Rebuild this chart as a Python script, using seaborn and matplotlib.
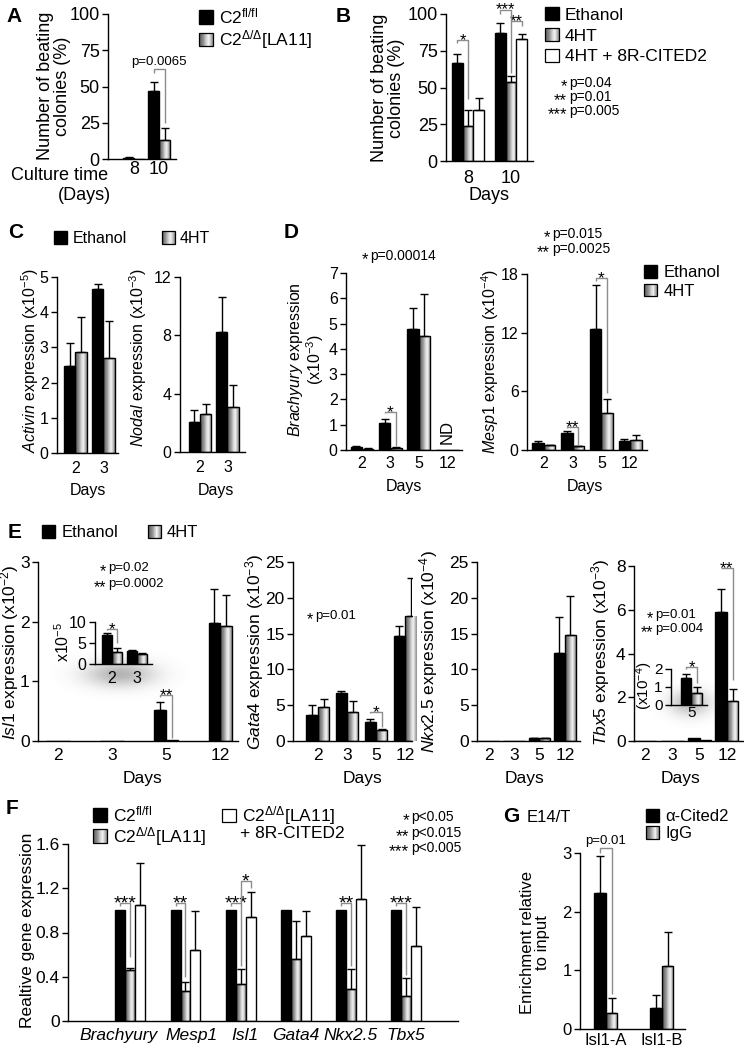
import numpy as np
import pandas as pd
import matplotlib
matplotlib.use("Agg")
import matplotlib.pyplot as plt
import matplotlib.transforms as mtrans
import seaborn as sns
from matplotlib.patches import Rectangle, Patch
from matplotlib.legend_handler import HandlerBase

# ---------------- data ----------------
a_days = ["8", "10"]
a_fl = [1.0, 47.0]
a_fl_err = [0.5, 6.0]
a_la11 = [0.0, 13.0]
a_la11_err = [0.0, 8.5]

b_days = ["8", "10"]
b_eth = [67.0, 87.0]
b_eth_err = [6.0, 7.0]
b_4ht = [24.0, 54.0]
b_4ht_err = [11.0, 4.0]
b_8r = [35.0, 83.0]
b_8r_err = [8.0, 3.5]

c_days = ["2", "3"]
activin_eth = [2.48, 4.66]
activin_eth_err = [0.64, 0.14]
activin_4ht = [2.88, 2.70]
activin_4ht_err = [0.99, 1.06]
nodal_eth = [2.05, 8.26]
nodal_eth_err = [0.85, 2.4]
nodal_4ht = [2.6, 3.07]
nodal_4ht_err = [0.7, 1.5]

d_days = ["2", "3", "5", "12"]
brachy_eth = [0.10, 1.07, 4.80, 0.0]
brachy_eth_err = [0.05, 0.16, 0.83, 0.0]
brachy_4ht = [0.05, 0.08, 4.52, 0.0]
brachy_4ht_err = [0.02, 0.03, 1.63, 0.0]
mesp1_eth = [0.70, 1.75, 12.4, 0.92]
mesp1_eth_err = [0.22, 0.20, 4.5, 0.20]
mesp1_4ht = [0.50, 0.40, 3.8, 1.0]
mesp1_4ht_err = [0.06, 0.05, 1.4, 0.5]

e_days = ["2", "3", "5", "12"]
isl1_eth = [0.0, 0.0, 0.52, 1.97]
isl1_eth_err = [0.0, 0.0, 0.13, 0.58]
isl1_4ht = [0.0, 0.0, 0.02, 1.93]
isl1_4ht_err = [0.0, 0.0, 0.0, 0.52]
inset_days = ["2", "3"]
isl1_in_eth = [6.9, 3.0]
isl1_in_eth_err = [0.4, 0.25]
isl1_in_4ht = [2.9, 2.4]
isl1_in_4ht_err = [0.9, 0.25]
gata4_eth = [3.7, 6.7, 2.7, 14.6]
gata4_eth_err = [1.3, 0.3, 0.4, 1.5]
gata4_4ht = [4.8, 4.0, 1.5, 17.5]
gata4_4ht_err = [1.1, 1.6, 0.2, 5.3]
nkx_eth = [0.0, 0.0, 0.4, 12.3]
nkx_eth_err = [0.0, 0.0, 0.05, 5.0]
nkx_4ht = [0.0, 0.0, 0.4, 14.8]
nkx_4ht_err = [0.0, 0.0, 0.05, 5.5]
tbx5_eth = [0.0, 0.0, 0.15, 5.9]
tbx5_eth_err = [0.0, 0.0, 0.0, 1.05]
tbx5_4ht = [0.0, 0.0, 0.05, 1.83]
tbx5_4ht_err = [0.0, 0.0, 0.0, 0.55]
tbx_in_days = ["5"]
tbx5_in_eth = [1.5]
tbx5_in_eth_err = [0.22]
tbx5_in_4ht = [0.67]
tbx5_in_4ht_err = [0.33]

f_genes = ["Brachyury", "Mesp1", "Isl1", "Gata4", "Nkx2.5", "Tbx5"]
f_fl = [1.0, 1.0, 1.0, 1.0, 1.0, 1.0]
f_fl_err = [0.0, 0.0, 0.0, 0.0, 0.0, 0.0]
f_la11 = [0.46, 0.27, 0.33, 0.56, 0.29, 0.23]
f_la11_err = [0.015, 0.08, 0.14, 0.34, 0.18, 0.16]
f_8r = [1.05, 0.64, 0.94, 0.77, 1.10, 0.68]
f_8r_err = [0.38, 0.35, 0.23, 0.22, 0.49, 0.35]

g_sites = ["Isl1-A", "Isl1-B"]
g_cited = [2.32, 0.36]
g_cited_err = [0.63, 0.22]
g_igg = [0.28, 1.07]
g_igg_err = [0.24, 0.58]

# ---------------- style ----------------
sns.set_style("ticks")
plt.rcParams["font.family"] = ["Liberation Sans", "DejaVu Sans"]
plt.rcParams.update({
    "mathtext.fontset": "custom",
    "mathtext.rm": "Liberation Sans",
    "mathtext.it": "Liberation Sans:italic",
    "mathtext.bf": "Liberation Sans:bold",
    "axes.edgecolor": "black", "xtick.color": "black", "ytick.color": "black",
    "text.color": "black", "axes.labelcolor": "black",
    "axes.linewidth": 1.0,
})

W, H = 744, 1053
fig = plt.figure(figsize=(W / 100, H / 100), dpi=100)
fig.patch.set_facecolor("white")

BR = "#8c8c8c"
GRAD_X = [0.0, 0.3, 0.55, 0.7, 0.85, 1.0]
GRAD_V = [0.35, 0.55, 0.85, 0.95, 0.75, 0.55]
GRAD_IMG = np.interp(np.linspace(0, 1, 64), GRAD_X, GRAD_V)[None, :]
FACE = {"black": "black", "grad": "#b0b0b0", "white": "white"}


class GradKey:
    pass


class GradHandler(HandlerBase):
    def create_artists(self, legend, orig, xd, yd, w, h, fs, trans):
        arts = []
        n = 14
        for i in range(n):
            g = float(np.interp((i + 0.5) / n, GRAD_X, GRAD_V))
            arts.append(Rectangle((-xd + w * i / n, -yd), w / n * 1.05, h,
                                  facecolor=(g, g, g), edgecolor="none", transform=trans))
        arts.append(Rectangle((-xd, -yd), w, h, facecolor="none", edgecolor="black",
                              lw=0.9, transform=trans))
        return arts


H_BLACK = Patch(facecolor="black", edgecolor="black")
H_GRAD = GradKey()
H_WHITE = Patch(facecolor="white", edgecolor="black", lw=0.9)


def px_axes(l, t, r, b):
    ax = fig.add_axes([l / W, 1 - b / H, (r - l) / W, (b - t) / H])
    ax._box = (l, t, r, b)
    ax.set_facecolor("none")
    return ax


def grad_fill(ax, p):
    h = p.get_height()
    if h <= 0:
        return
    x0, y0, w = p.get_x(), p.get_y(), p.get_width()
    im = ax.imshow(GRAD_IMG, extent=(x0, x0 + w, y0, y0 + h), aspect="auto", cmap="gray",
                   vmin=0, vmax=1, interpolation="bilinear", zorder=p.get_zorder() - 0.01)
    im.set_clip_path(p)
    p.set_facecolor("none")


def bars(ax, cats, series, width, xlim, ylim, yticks, fs, xpad, ytl=None):
    names = [s[0] for s in series]
    rows = [(c, s[0], v) for s in series for c, v in zip(cats, s[1])]
    df = pd.DataFrame(rows, columns=["cat", "series", "val"])
    pal = {s[0]: FACE[s[3]] for s in series}
    sns.barplot(data=df, x="cat", y="val", hue="series", order=cats, hue_order=names,
                palette=pal, width=width, saturation=1, edgecolor="black", linewidth=1.0,
                errorbar=None, legend=False, ax=ax)
    n = len(cats)
    pats = list(ax.patches)
    grid = [pats[h * n:(h + 1) * n] for h in range(len(series))]
    centers = []
    for h, s in enumerate(series):
        xs = [p.get_x() + p.get_width() / 2 for p in grid[h]]
        centers.append(xs)
        sel = [i for i in range(n) if s[2][i] > 0]
        if sel:
            ax.errorbar([xs[i] for i in sel], [s[1][i] for i in sel],
                        yerr=[[0] * len(sel), [s[2][i] for i in sel]], fmt="none",
                        ecolor="black", elinewidth=1.0, capsize=2.6, capthick=1.0, zorder=3)
        if s[3] == "grad":
            for p in grid[h]:
                grad_fill(ax, p)
    ax.set_xlim(*xlim)
    ax.set_ylim(*ylim)
    ax.set_yticks(yticks)
    if ytl is not None:
        ax.set_yticklabels(ytl)
    ax.tick_params(axis="both", labelsize=fs)
    ax.tick_params(axis="x", length=0, pad=xpad)
    ax.tick_params(axis="y", length=4, width=1, pad=2, direction="out")
    sns.despine(ax=ax)
    ax.set_xlabel("")
    ax.set_ylabel("")
    return centers


def ylab(ax, text, xc, yc, fs, ls=1.0):
    l, t, r, b = ax._box
    ax.set_ylabel(text, fontsize=fs)
    lab = ax.yaxis.label
    lab.set_va("center")
    lab.set_ha("center")
    lab.set_linespacing(ls)
    ax.yaxis.set_label_coords((xc - l) / (r - l), (b - yc) / (b - t))


def xlab(ax, text, xc, yc, fs):
    l, t, r, b = ax._box
    ax.set_xlabel(text, fontsize=fs)
    ax.xaxis.label.set_va("center")
    ax.xaxis.set_label_coords((xc - l) / (r - l), (b - yc) / (b - t))


def bracket(ax, x1, x2, y, y1, y2, label=None, fs=12.5, star=True):
    ax.plot([x1, x1, x2, x2], [y1, y, y, y2], color=BR, lw=1.0, clip_on=False, zorder=4,
            solid_capstyle="butt")
    if label:
        if star:
            ax.annotate(label, xy=((x1 + x2) / 2, y), xytext=(0, -0.3 * fs),
                        textcoords="offset points", ha="center", va="baseline", fontsize=fs,
                        annotation_clip=False)
        else:
            ax.annotate(label, xy=((x1 + x2) / 2, y), xytext=(0, 1), textcoords="offset points",
                        ha="center", va="bottom", fontsize=fs, annotation_clip=False)


def T(x, y, s, fs, ha="left", va="center", **kw):
    fig.text(x / W, 1 - y / H, s, fontsize=fs, ha=ha, va=va, **kw)


def pline(xs, y, st, pv, fs=10, sfs=12.5):
    """star(s) right-aligned at xs, p-value text left-aligned right after"""
    T(xs, y + 0.22 * sfs * 100 / 72, st, sfs, ha="right")
    T(xs + 2, y, pv, fs)


def legend(handles, labels, x, y, fs, ncol=1, colsp=1.5, lsp=0.2):
    fig.legend(handles, labels, loc="upper left", bbox_to_anchor=(x / W, 1 - y / H),
               bbox_transform=fig.transFigure, frameon=False, ncol=ncol, fontsize=fs,
               handlelength=0.8, handleheight=0.8, handletextpad=0.35, labelspacing=lsp,
               columnspacing=colsp, borderpad=0, borderaxespad=0,
               handler_map={GradKey: GradHandler()})


def shadow(cx, cy, sx, sy, amax):
    l, r = cx - 3 * sx, cx + 3 * sx
    t, b = cy - 3 * sy, cy + 3 * sy
    sax = fig.add_axes([l / W, 1 - b / H, (r - l) / W, (b - t) / H])
    sax.axis("off")
    yy, xx = np.mgrid[-3:3:90j, -3:3:120j]
    a = amax * np.exp(-0.5 * (xx ** 2 + yy ** 2))
    rgba = np.zeros(a.shape + (4,))
    rgba[..., :3] = 0.3
    rgba[..., 3] = a
    sax.imshow(rgba, extent=(0, 1, 0, 1), aspect="auto", interpolation="bilinear")
    sax.set_xlim(0, 1)
    sax.set_ylim(0, 1)


PL = dict(fs=15, fontweight="bold")

# ---------------- Panel A ----------------
axA = px_axes(108, 14, 176, 159)
cA = bars(axA, a_days, [("fl", a_fl, a_fl_err, "black"), ("la11", a_la11, a_la11_err, "grad")],
          0.88, (-1.04, 1.68), (0, 100), [0, 25, 50, 75, 100], 13, 1.5)
ylab(axA, "Number of beating\ncolonies (%)", 54, 86, 13)
bracket(axA, cA[0][1], cA[1][1], 62, 59, 25, "p=0.0065", fs=9.5, star=False)
T(108, 176, "Culture time", 13, ha="right")
T(84, 196, "(Days)", 13, ha="center")
T(6, 16, "A", **PL)
legend([H_BLACK, H_GRAD], ["C2$^{\\mathrm{fl/fl}}$", "C2$^{\\Delta/\\Delta}$[LA11]"], 199, 6, 12.5,
       lsp=0.15)

# ---------------- Panel B ----------------
axB = px_axes(446, 14, 533, 161)
cB = bars(axB, b_days, [("eth", b_eth, b_eth_err, "black"), ("4ht", b_4ht, b_4ht_err, "grad"),
                        ("8r", b_8r, b_8r_err, "white")],
          0.75, (-0.51, 1.51), (0, 100), [0, 25, 50, 75, 100], 13, 6.5)
ylab(axB, "Number of beating\ncolonies (%)", 388, 88, 13)
xlab(axB, "Days", 489, 196, 13)
bracket(axB, cB[0][0], cB[1][0], 82, 80, 42, "*", fs=12)
bracket(axB, cB[0][1], cB[1][1], 103, 100, 60, "***", fs=12)
bracket(axB, cB[1][1], cB[2][1], 95, 95, 92, "**", fs=12)
T(336, 16, "B", **PL)
legend([H_BLACK, H_GRAD, H_WHITE], ["Ethanol", "4HT", "4HT + 8R-CITED2"], 545, 7, 12.5, lsp=0.3)
for yy, st, pv in [(83, "*", "p=0.04"), (97, "**", "p=0.01"), (111, "***", "p=0.005")]:
    pline(567, yy, st, pv, 10, 12)

# ---------------- Panel C ----------------
axC1 = px_axes(57, 277, 118, 453)
bars(axC1, c_days, [("eth", activin_eth, activin_eth_err, "black"),
                    ("4ht", activin_4ht, activin_4ht_err, "grad")],
     0.82, (-0.66, 1.52), (0, 5), [0, 1, 2, 3, 4, 5], 11.5, 6)
ylab(axC1, "$\\it{Activin}$ expression (x10$^{-5}$)", 30, 360, 11.5)
xlab(axC1, "Days", 88, 490, 11.5)

axC2 = px_axes(180, 277, 245, 452)
bars(axC2, c_days, [("eth", nodal_eth, nodal_eth_err, "black"),
                    ("4ht", nodal_4ht, nodal_4ht_err, "grad")],
     0.82, (-0.73, 1.64), (0, 12), [0, 4, 8, 12], 11.5, 6)
ylab(axC2, "$\\it{Nodal}$ expression (x10$^{-3}$)", 138, 358, 11.5)
xlab(axC2, "Days", 216, 490, 11.5)
T(8, 233, "C", **PL)
legend([H_BLACK, H_GRAD], ["Ethanol", "4HT"], 54, 231, 11.5, ncol=2, colsp=2.2)

# ---------------- Panel D ----------------
axD1 = px_axes(346, 273, 462, 450)
cD1 = bars(axD1, d_days, [("eth", brachy_eth, brachy_eth_err, "black"),
                          ("4ht", brachy_4ht, brachy_4ht_err, "grad")],
           0.8, (-0.56, 3.52), (0, 7), [0, 1, 2, 3, 4, 5, 6, 7], 11.5, 4.5)
ylab(axD1, "$\\it{Brachyury}$ expression\n(x10$^{-3}$)", 306, 360, 11.5)
xlab(axD1, "Days", 404, 487, 11.5)
bracket(axD1, cD1[0][1], cD1[1][1], 1.5, 1.45, 0.15, "*", fs=12.5)
axD1.text((cD1[0][3] + cD1[1][3]) / 2, 0.7, "ND", rotation=90, ha="center", va="center",
          fontsize=12)
pline(368, 256, "*", "p=0.00014", 10, 12)

axD2 = px_axes(527, 274, 647, 450)
cD2 = bars(axD2, d_days, [("eth", mesp1_eth, mesp1_eth_err, "black"),
                          ("4ht", mesp1_4ht, mesp1_4ht_err, "grad")],
           0.8, (-0.59, 3.59), (0, 18), [0, 6, 12, 18], 11.5, 4.5)
ylab(axD2, "$\\it{Mesp1}$ expression (x10$^{-4}$)", 490, 361, 11.5)
xlab(axD2, "Days", 585, 487, 11.5)
bracket(axD2, cD2[0][1], cD2[1][1], 2.35, 2.2, 0.55, "**", fs=12.5)
bracket(axD2, cD2[0][2], cD2[1][2], 17.6, 17.3, 5.8, "*", fs=12.5)
pline(550, 234, "*", "p=0.015", 10, 12)
pline(550, 249, "**", "p=0.0025", 10, 12)
T(284, 233, "D", **PL)
legend([H_BLACK, H_GRAD], ["Ethanol", "4HT"], 644, 265, 12, lsp=0.2)

# ---------------- Panel E ----------------
axE1 = px_axes(38, 562, 238, 741)
cE1 = bars(axE1, e_days, [("eth", isl1_eth, isl1_eth_err, "black"),
                          ("4ht", isl1_4ht, isl1_4ht_err, "grad")],
           0.43, (-0.37, 3.33), (0, 3), [0, 1, 2, 3], 12.5, 5)
ylab(axE1, "$\\it{Isl1}$ expression (x10$^{-2}$)", 10, 652, 12.5)
xlab(axE1, "Days", 142, 778, 12.5)
bracket(axE1, cE1[0][2], cE1[1][2], 0.77, 0.74, 0.05, "**", fs=12.5)
pline(106, 568, "*", "p=0.02", 9.5, 11.5)
pline(106, 584, "**", "p=0.0002", 9.5, 11.5)

axE2 = px_axes(293, 562, 412, 741)
cE2 = bars(axE2, e_days, [("eth", gata4_eth, gata4_eth_err, "black"),
                          ("4ht", gata4_4ht, gata4_4ht_err, "grad")],
           0.79, (-0.86, 3.24), (0, 25), [0, 5, 10, 15, 20, 25], 12.5, 5)
ylab(axE2, "$\\it{Gata4}$ expression (x10$^{-3}$)", 255, 652, 12.5)
xlab(axE2, "Days", 362, 778, 12.5)
bracket(axE2, cE2[0][2], cE2[1][2], 4.05, 3.9, 2.0, "*", fs=12.5)
pline(313, 616, "*", "p=0.01", 9.5, 11.5)

axE3 = px_axes(477, 562, 580, 741)
bars(axE3, e_days, [("eth", nkx_eth, nkx_eth_err, "black"),
                    ("4ht", nkx_4ht, nkx_4ht_err, "grad")],
     0.86, (-0.45, 3.59), (0, 25), [0, 5, 10, 15, 20, 25], 12.5, 5)
ylab(axE3, "$\\it{Nkx2.5}$ expression (x10$^{-4}$)", 429, 652, 12.5)
xlab(axE3, "Days", 525, 778, 12.5)

axE4 = px_axes(634, 566, 743, 741)
cE4 = bars(axE4, e_days, [("eth", tbx5_eth, tbx5_eth_err, "black"),
                          ("4ht", tbx5_4ht, tbx5_4ht_err, "grad")],
           0.84, (-0.4, 3.59), (0, 8), [0, 2, 4, 6, 8], 12.5, 5)
ylab(axE4, "$\\it{Tbx5}$ expression (x10$^{-3}$)", 601, 652, 12.5)
xlab(axE4, "Days", 680, 778, 12.5)
bracket(axE4, cE4[0][3], cE4[1][3], 7.9, 7.9, 2.8, "**", fs=12.5)
pline(653, 615, "*", "p=0.01", 9.5, 11.5)
pline(653, 629, "**", "p=0.004", 9.5, 11.5)

T(8, 533, "E", **PL)
legend([H_BLACK, H_GRAD], ["Ethanol", "4HT"], 42, 525, 12, ncol=2, colsp=1.8)

# inset shadows
shadow(120, 674, 24, 9, 0.42)
shadow(690, 703, 14, 9, 0.38)

# Isl1 inset
axE1i = px_axes(95, 622, 152, 664)
cE1i = bars(axE1i, inset_days, [("eth", isl1_in_eth, isl1_in_eth_err, "black"),
                                ("4ht", isl1_in_4ht, isl1_in_4ht_err, "grad")],
            0.8, (-0.68, 1.6), (0, 10), [0, 5, 10], 11.5, 5)
ylab(axE1i, "x10$^{-5}$", 63, 642, 11.5)
bracket(axE1i, cE1i[0][0], cE1i[1][0], 8.3, 8.0, 5.0, "*", fs=12)

# Tbx5 inset
axE4i = px_axes(671, 669, 707, 705)
cE4i = bars(axE4i, tbx_in_days, [("eth", tbx5_in_eth, tbx5_in_eth_err, "black"),
                                  ("4ht", tbx5_in_4ht, tbx5_in_4ht_err, "grad")],
            0.8, (-0.78, 0.59), (0, 2), [0, 1, 2], 11, 0.5)
ylab(axE4i, "(x10$^{-4}$)", 644, 686, 11)
bracket(axE4i, cE4i[0][0], cE4i[1][0], 2.1, 2.0, 1.2, "*", fs=12)

# ---------------- Panel F ----------------
axF = px_axes(68, 844, 458, 1021)
cF = bars(axF, f_genes, [("fl", f_fl, f_fl_err, "black"), ("la11", f_la11, f_la11_err, "grad"),
                         ("8r", f_8r, f_8r_err, "white")],
          0.54, (-1.13, 5.94), (0, 1.6), [0, 0.4, 0.8, 1.2, 1.6], 12.5, 5,
          ytl=["0", "0.4", "0.8", "1.2", "1.6"])
f_label_shift = [-12, 6, 4, 0, 0, 0]
for lab, dx in zip(axF.get_xticklabels(), f_label_shift):
    lab.set_fontstyle("italic")
    lab.set_transform(lab.get_transform() + mtrans.ScaledTranslation(dx / 100, 0, fig.dpi_scale_trans))
ylab(axF, "Realtive gene expression", 28, 930, 12.5)
f_drop = [0.58, 0.40, 0.50, None, 0.50, 0.42]
f_star = ["***", "**", "***", None, "**", "***"]
for i in range(6):
    if f_star[i]:
        bracket(axF, cF[0][i], cF[1][i], 1.07, 1.04, f_drop[i], f_star[i], fs=14)
bracket(axF, cF[1][2], cF[2][2], 1.27, 1.07, 1.2, "*", fs=14)
T(6, 809, "F", **PL)
legend([H_BLACK, H_GRAD], ["C2$^{\\mathrm{fl/fl}}$", "C2$^{\\Delta/\\Delta}$[LA11]"], 93, 804, 12.5,
       lsp=0.05)
legend([H_WHITE], ["C2$^{\\Delta/\\Delta}$[LA11]"], 222, 804, 12.5)
T(240, 834, "+ 8R-CITED2", 12.5)
for yy, st, pv in [(817, "*", "p<0.05"), (833, "**", "p<0.015"), (848, "***", "p<0.005")]:
    pline(409, yy, st, pv, 10, 12.5)

# ---------------- Panel G ----------------
axG = px_axes(580, 853, 685, 1029)
cG = bars(axG, g_sites, [("cited", g_cited, g_cited_err, "black"), ("igg", g_igg, g_igg_err, "grad")],
          0.41, (-0.46, 1.41), (0, 3), [0, 1, 2, 3], 12, 3)
ylab(axG, "Enrichment relative\nto input", 535, 943, 12)
bracket(axG, cG[0][0], cG[1][0], 3.08, 3.0, 0.6, "p=0.01", fs=9.5, star=False)
T(503, 816, "G", **PL)
T(527, 817, "E14/T", 12)
legend([H_BLACK, H_GRAD], ["\u03b1-Cited2", "IgG"], 646, 809, 12, lsp=0.1)

fig.savefig("out.png", dpi=100, facecolor="white")
